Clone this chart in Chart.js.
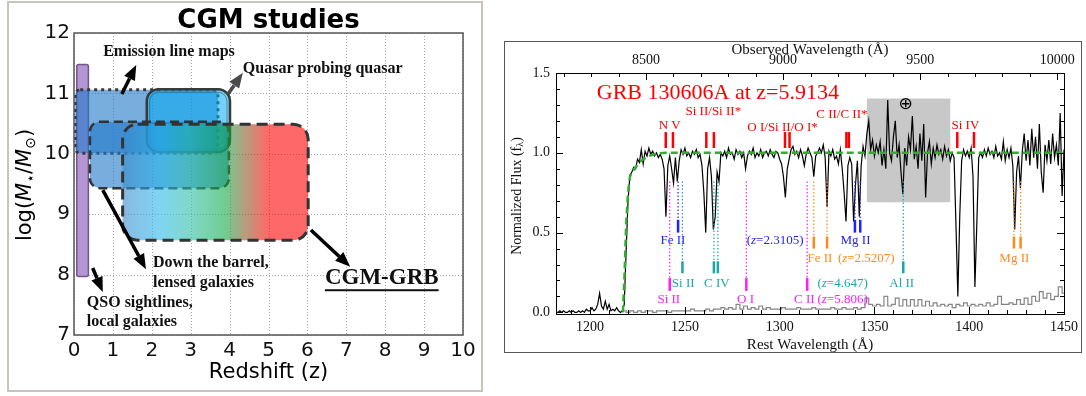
<!DOCTYPE html>
<html>
<head>
<meta charset="utf-8">
<script src="https://cdn.jsdelivr.net/npm/chart.js@4.4.0/dist/chart.umd.min.js"></script>
<style>
  body { margin: 0; background: #fff; width: 1086px; height: 396px; position: relative; overflow: hidden; }
  #frameL { position: absolute; left: 7px; top: 1px; width: 472px; height: 387px; border: 2px solid #c9c4bb; }
  #frameR { position: absolute; left: 504px; top: 41px; width: 576px; height: 310px; border: 1px solid #555; }
  #cL { position: absolute; left: 0; top: 0; }
  #cR { position: absolute; left: 492px; top: 0; }
</style>
</head>
<body>
<div id="frameL"></div>
<div id="frameR"></div>
<canvas id="cL" width="492" height="396"></canvas>
<canvas id="cR" width="594" height="396"></canvas>
<script>
// ---------- panneau gauche : CGM studies ----------
const zTicks = [0, 1, 2, 3, 4, 5, 6, 7, 8, 9, 10];
const massTicks = [7, 8, 9, 10, 11, 12];

// boites (redshift / log masse) : QSO, emission, quasar-quasar, down the barrel, CGM-GRB
const zLow = [0.07, 0.03, 1.87, 0.41, 1.25];
const zHigh = [0.37, 3.70, 4.01, 3.98, 6.02];
const massLow = [7.97, 10.01, 10.03, 9.43, 8.57];
const massHigh = [11.48, 11.06, 11.07, 10.53, 10.49];

// degrade de la boite CGM-GRB (en redshift)
const gradZ = [1.25, 2.2, 3.0, 3.9, 4.35, 5.0];
const gradColors = ['#3989cb', '#2bb7ed', '#2bbea3', '#11aa46', '#7b612b', '#ff0303'];

// fleches (queue -> pointe)
const arrowTailZ = [0.48, 1.23, 3.96, 0.74, 6.09];
const arrowTailM = [8.11, 10.99, 10.99, 9.40, 8.74];
const arrowHeadZ = [0.74, 1.60, 4.34, 1.85, 7.10];
const arrowHeadM = [7.71, 11.47, 11.34, 8.09, 8.13];

// ---------- panneau droit : spectre GRB 130606A ----------
const zGRB = 5.9134;
const restTicks = [1200, 1250, 1300, 1350, 1400, 1450];
const obsTicks = [8500, 9000, 9500, 10000];
const fluxTicks = [0.0, 0.5, 1.0, 1.5];

// flux normalise, un point par Angstrom a partir de 1180
const waveStart = 1180;
const flux = [
  0.00, 0.01, 0.00, 0.00, 0.01, 0.00, 0.01, 0.00, 0.00, 0.01, // 1180
  0.00, 0.01, 0.00, 0.00, 0.01, 0.00, 0.01, 0.00, 0.02, 0.01, // 1190
  0.01, 0.03, 0.01, 0.02, 0.05, 0.12, 0.04, 0.02, 0.07, 0.02, // 1200
  0.05, 0.01, 0.02, 0.01, 0.03, 0.01, 0.00, 0.01, 0.05, 0.38, // 1210
  0.70, 0.86, 0.88, 0.91, 0.90, 0.96, 0.94, 1.02, 0.93, 1.01, // 1220
  0.98, 1.03, 0.99, 1.01, 0.98, 1.00, 0.97, 0.99, 0.96, 0.90, // 1230
  0.60, 0.92, 0.98, 0.90, 0.81, 0.97, 0.82, 0.95, 1.02, 0.99, // 1240
  1.03, 0.98, 1.00, 0.97, 1.01, 0.99, 1.02, 0.97, 0.99, 0.92, // 1250
  0.75, 0.50, 0.90, 0.97, 0.85, 0.52, 0.60, 0.88, 0.82, 1.00, // 1260
  0.98, 1.01, 0.97, 1.03, 0.99, 1.00, 0.96, 1.02, 0.99, 1.01, // 1270
  0.97, 1.00, 0.90, 0.98, 1.01, 0.99, 1.03, 0.97, 1.00, 0.98, // 1280
  1.02, 0.97, 1.00, 1.01, 0.98, 1.02, 0.99, 0.97, 1.01, 1.00, // 1290
  0.96, 0.93, 0.85, 0.72, 0.90, 0.96, 1.02, 1.04, 0.99, 1.01, // 1300
  0.97, 1.02, 0.98, 0.92, 0.99, 1.03, 1.00, 0.97, 0.85, 0.98, // 1310
  1.00, 1.03, 1.00, 1.05, 0.97, 0.66, 1.01, 0.98, 1.02, 0.96, // 1320
  0.98, 0.93, 1.02, 0.90, 0.75, 0.57, 0.92, 0.97, 0.93, 0.57, // 1330
  0.80, 0.95, 0.60, 0.92, 1.04, 0.98, 1.12, 1.20, 1.02, 1.08, // 1340
  0.98, 1.05, 1.00, 1.07, 0.92, 1.02, 0.90, 1.33, 1.00, 0.95, // 1350
  1.10, 1.20, 0.97, 1.05, 0.88, 0.74, 1.03, 0.92, 1.10, 1.02, // 1360
  1.23, 0.96, 1.04, 0.90, 1.12, 0.95, 1.18, 0.72, 1.00, 1.07, // 1370
  0.93, 1.03, 0.97, 1.05, 0.99, 1.02, 0.96, 1.04, 0.98, 1.02, // 1380
  0.95, 1.00, 0.97, 0.55, 0.10, 0.60, 0.95, 1.02, 0.98, 1.01, // 1390
  0.97, 1.03, 0.85, 0.16, 0.55, 0.97, 1.00, 0.97, 1.02, 0.98, // 1400
  1.03, 0.99, 1.01, 0.97, 1.04, 0.98, 1.00, 0.96, 1.07, 0.95, // 1410
  1.02, 0.97, 1.03, 0.92, 0.52, 0.88, 0.98, 0.78, 1.01, 1.12, // 1420
  0.95, 1.08, 0.92, 1.15, 0.97, 1.10, 0.90, 1.18, 0.88, 0.75, // 1430
  1.05, 0.95, 1.08, 0.93, 1.12, 0.97, 1.05, 0.92, 1.25, 0.73, // 1440
  1.02                                                        // 1450
];

// spectre d'erreur, tous les 2 Angstrom a partir de 1218
const errStart = 1218;
const errStep = 2;
const errFlux = [
  0.01, 0.00, 0.01, 0.00, 0.01, 0.00, 0.01, 0.01, 0.00, 0.01,
  0.01, 0.01, 0.00, 0.01, 0.01, 0.01, 0.01, 0.01, 0.02, 0.01,
  0.01, 0.01, 0.02, 0.01, 0.02, 0.02, 0.03, 0.02, 0.03, 0.02,
  0.05, 0.02, 0.04, 0.02, 0.03, 0.02, 0.04, 0.02, 0.03, 0.02,
  0.02, 0.02, 0.03, 0.02, 0.02, 0.02, 0.03, 0.02, 0.02, 0.02,
  0.03, 0.02, 0.02, 0.02, 0.02, 0.03, 0.02, 0.02, 0.03, 0.02,
  0.02, 0.03, 0.02, 0.03, 0.09, 0.05, 0.04, 0.05, 0.04, 0.10,
  0.04, 0.05, 0.09, 0.04, 0.08, 0.04, 0.08, 0.04, 0.08, 0.04,
  0.07, 0.04, 0.06, 0.04, 0.05, 0.04, 0.05, 0.03, 0.05, 0.04,
  0.06, 0.04, 0.05, 0.04, 0.05, 0.04, 0.06, 0.04, 0.05, 0.10,
  0.05, 0.05, 0.06, 0.05, 0.08, 0.05, 0.09, 0.05, 0.10, 0.07,
  0.13, 0.09, 0.12, 0.08, 0.10, 0.16, 0.12
];

// modele (continuum + aile Lyman alpha)
const modelWave = [1217.3, 1218.2, 1219, 1220, 1221, 1222, 1224, 1226, 1228, 1231, 1235, 1240, 1450];
const modelFlux = [0.00, 0.25, 0.55, 0.75, 0.85, 0.88, 0.91, 0.94, 0.96, 0.98, 0.995, 1.00, 1.00];

// bande tellurique (grisee)
const telluricWave = [1346, 1390];
const telluricFlux = [0.69, 1.34];

// raies du GRB (rouge)
const grbLines = [[1239.9, 1243.7], [1261.3, 1265.3], [1302.8, 1305.2], [1335.2, 1336.5], [1393.7, 1402.5]];
const grbLabels = ['N V', 'Si II/Si II*', 'O I/Si II/O I*', 'C II/C II*', 'Si IV'];
const grbLabelWave = [1242, 1265, 1301.5, 1332.8, 1398];
const grbLabelFlux = [1.17, 1.26, 1.16, 1.24, 1.17];

// systemes intervenants : z=2.3105 (bleu), z=2.5207 (orange), z=4.647 (cyan), z=5.806 (magenta)
const absLines = [
  [1246.4, 1339.7, 1342.5],
  [1318.0, 1325.0, 1423.6, 1427.1],
  [1248.7, 1265.3, 1267.4, 1365.2],
  [1242.0, 1282.4, 1314.5]
];
const absTickLow = [0.50, 0.40, 0.245, 0.135];
const absTickHigh = [0.58, 0.475, 0.32, 0.215];
const absLabels = [
  ['Fe II', 'Mg II', '(z=2.3105)'],
  ['Fe II', '(z=2.5207)', 'Mg II'],
  ['Si II', 'C IV', '(z=4.647)', 'Al II'],
  ['Si II', 'O I', 'C II', '(z=5.806)']
];
const absLabelWave = [
  [1243.7, 1340, 1297.6],
  [1321.2, 1345.7, 1423.8],
  [1249.1, 1266.9, 1333.2, 1364.4],
  [1241.5, 1282, 1313, 1333.2]
];
const absLabelFlux = [0.45, 0.34, 0.18, 0.08];
const absDottedTop = 0.82;

// ---------- styles ----------
const boxStyle = [
  { fill: '#b596d4', alpha: 1, edge: '#6f5888', lw: 1.5, dash: [], r: 2 },
  { fill: 'rgb(30,120,200)', alpha: 0.6, edge: '#3a3a3a', lw: 3, dash: [3, 4], r: 5 },
  { fill: 'rgb(0,170,240)', alpha: 0.55, edge: '#3a3a3a', lw: 2.5, dash: [], r: 12 },
  { fill: 'rgb(30,120,200)', alpha: 0.6, edge: '#333', lw: 2.5, dash: [9, 5], r: 10 },
  { gradient: true, alpha: 0.6, edge: '#333', lw: 3, dash: [11, 6], r: 15 }
];
const absColors = ['#2222ff', '#ff8a1c', '#1ea6a6', '#ff1cff'];
const arrowColors = ['#000', '#000', '#4a4a4a', '#000', '#000'];

const studyText = [
  { t: 'Emission line maps', z: 0.75, m: 11.69 },
  { t: 'Quasar probing quasar', z: 4.34, m: 11.40 },
  { t: 'Down the barrel,', z: 2.03, m: 8.19 },
  { t: 'lensed galaxies', z: 2.03, m: 7.86 },
  { t: 'QSO sightlines,', z: 0.33, m: 7.53 },
  { t: 'local galaxies', z: 0.33, m: 7.22 }
];

// ---------- outils de dessin ----------
function roundRectPath(ctx, x, y, w, h, r) {
  ctx.beginPath();
  ctx.moveTo(x + r, y);
  ctx.lineTo(x + w - r, y);
  ctx.arcTo(x + w, y, x + w, y + r, r);
  ctx.lineTo(x + w, y + h - r);
  ctx.arcTo(x + w, y + h, x + w - r, y + h, r);
  ctx.lineTo(x + r, y + h);
  ctx.arcTo(x, y + h, x, y + h - r, r);
  ctx.lineTo(x, y + r);
  ctx.arcTo(x, y, x + r, y, r);
  ctx.closePath();
}

function drawArrow(ctx, x0, y0, x1, y1, color) {
  const ang = Math.atan2(y1 - y0, x1 - x0);
  const hl = 15, hw = 12;
  const bx = x1 - hl * Math.cos(ang), by = y1 - hl * Math.sin(ang);
  ctx.strokeStyle = color;
  ctx.lineWidth = 3.5;
  ctx.beginPath();
  ctx.moveTo(x0, y0);
  ctx.lineTo(bx, by);
  ctx.stroke();
  ctx.fillStyle = color;
  ctx.beginPath();
  ctx.moveTo(x1, y1);
  ctx.lineTo(bx + hw / 2 * Math.sin(ang), by - hw / 2 * Math.cos(ang));
  ctx.lineTo(bx - hw / 2 * Math.sin(ang), by + hw / 2 * Math.cos(ang));
  ctx.closePath();
  ctx.fill();
}

// texte en morceaux (polices differentes), centre sur x
function drawParts(ctx, parts, x, y) {
  let w = 0;
  parts.forEach(p => { ctx.font = p.f; w += ctx.measureText(p.t).width; });
  let cx = x - w / 2;
  ctx.textAlign = 'left';
  parts.forEach(p => {
    ctx.font = p.f;
    ctx.fillText(p.t, cx, y + (p.dy || 0));
    cx += ctx.measureText(p.t).width;
  });
}

function serifLabel(text, size) {
  const f = size + 'px "Liberation Serif"';
  if (text.startsWith('(z=')) {
    return [{ t: '(', f: f }, { t: 'z', f: 'italic ' + f }, { t: text.slice(2), f: f }];
  }
  return [{ t: text, f: f }];
}

// ---------- plugin panneau gauche ----------
const cgmDecor = {
  id: 'cgmDecor',
  beforeDatasetsDraw(chart) {
    const { ctx, chartArea: a, scales: { x, y } } = chart;
    ctx.save();
    // grille pointillee
    ctx.strokeStyle = '#a8a8a8';
    ctx.lineWidth = 1;
    ctx.setLineDash([1, 2]);
    ctx.beginPath();
    zTicks.forEach(z => {
      const px = Math.round(x.getPixelForValue(z)) + 0.5;
      ctx.moveTo(px, a.top); ctx.lineTo(px, a.bottom);
    });
    massTicks.forEach(m => {
      const py = Math.round(y.getPixelForValue(m)) + 0.5;
      ctx.moveTo(a.left, py); ctx.lineTo(a.right, py);
    });
    ctx.stroke();
    ctx.setLineDash([]);
    ctx.beginPath();
    ctx.rect(a.left, a.top, a.right - a.left, a.bottom - a.top);
    ctx.clip();
    for (let i = 0; i < zLow.length; i++) {
      const st = boxStyle[i];
      const L = x.getPixelForValue(zLow[i]), R = x.getPixelForValue(zHigh[i]);
      const T = y.getPixelForValue(massHigh[i]), B = y.getPixelForValue(massLow[i]);
      let fill = st.fill;
      if (st.gradient) {
        fill = ctx.createLinearGradient(L, 0, R, 0);
        gradZ.forEach((z, k) => {
          const off = Math.min(1, Math.max(0, (z - zLow[i]) / (zHigh[i] - zLow[i])));
          fill.addColorStop(off, gradColors[k]);
        });
      }
      roundRectPath(ctx, L, T, R - L, B - T, st.r);
      ctx.globalAlpha = st.alpha;
      ctx.fillStyle = fill;
      ctx.fill();
      ctx.globalAlpha = 1;
      ctx.setLineDash(st.dash);
      ctx.lineWidth = st.lw;
      ctx.strokeStyle = st.edge;
      ctx.stroke();
      ctx.setLineDash([]);
      if (i === 2) {
        roundRectPath(ctx, L + 3, T + 3, R - L - 6, B - T - 6, st.r - 3);
        ctx.lineWidth = 1;
        ctx.strokeStyle = 'rgba(50,50,50,0.45)';
        ctx.stroke();
      }
    }
    ctx.restore();
  },
  afterDatasetsDraw(chart) {
    const { ctx, chartArea: a, scales: { x, y } } = chart;
    ctx.save();
    for (let i = 0; i < arrowTailZ.length; i++) {
      drawArrow(ctx, x.getPixelForValue(arrowTailZ[i]), y.getPixelForValue(arrowTailM[i]),
        x.getPixelForValue(arrowHeadZ[i]), y.getPixelForValue(arrowHeadM[i]), arrowColors[i]);
    }
    ctx.fillStyle = '#111';
    ctx.textBaseline = 'middle';
    ctx.textAlign = 'left';
    ctx.font = 'bold 16px "Liberation Serif"';
    studyText.forEach(s => ctx.fillText(s.t, x.getPixelForValue(s.z), y.getPixelForValue(s.m)));
    // CGM-GRB souligne
    ctx.font = 'bold 23px "Liberation Serif"';
    const gx = x.getPixelForValue(6.45), gy = y.getPixelForValue(7.94);
    ctx.fillText('CGM-GRB', gx, gy);
    const gw = ctx.measureText('CGM-GRB').width;
    ctx.fillRect(gx, gy + 11, gw, 2);
    // cadre
    ctx.strokeStyle = '#555';
    ctx.lineWidth = 1.5;
    ctx.strokeRect(a.left, a.top, a.right - a.left, a.bottom - a.top);
    // titres
    ctx.fillStyle = '#000';
    ctx.textAlign = 'center';
    ctx.font = 'bold 26px "DejaVu Sans"';
    ctx.fillText('CGM studies', (a.left + a.right) / 2, 21);
    ctx.font = '21px "DejaVu Sans"';
    ctx.fillText('Redshift (z)', (a.left + a.right) / 2, 373);
    ctx.translate(26, 185);
    ctx.rotate(-Math.PI / 2);
    drawParts(ctx, [
      { t: 'log(', f: '21px "DejaVu Sans"' },
      { t: 'M', f: 'italic 21px "DejaVu Sans"' },
      { t: '\u22C6', f: '14px "DejaVu Sans"', dy: 5 },
      { t: '/', f: '21px "DejaVu Sans"' },
      { t: 'M', f: 'italic 21px "DejaVu Sans"' },
      { t: '\u2299', f: '14px "DejaVu Sans"', dy: 5 },
      { t: ')', f: '21px "DejaVu Sans"' }
    ], 0, 0);
    ctx.restore();
  }
};

new Chart(document.getElementById('cL'), {
  type: 'scatter',
  data: { datasets: [] },
  options: {
    responsive: false,
    animation: false,
    devicePixelRatio: 1,
    layout: { padding: { top: 33, right: 29, left: 0, bottom: 0 } },
    plugins: { legend: { display: false }, tooltip: { enabled: false } },
    scales: {
      x: {
        type: 'linear', min: 0, max: 10,
        afterFit: s => { s.height = 61; },
        afterBuildTicks: s => { s.ticks = zTicks.map(v => ({ value: v })); },
        grid: { display: false, drawTicks: false },
        border: { display: false },
        ticks: { padding: 4, maxRotation: 0, autoSkip: false, color: '#111', font: { family: 'DejaVu Sans', size: 20 } }
      },
      y: {
        type: 'linear', min: 7, max: 12,
        afterFit: s => { s.width = 74; },
        afterBuildTicks: s => { s.ticks = massTicks.map(v => ({ value: v })); },
        grid: { display: false, drawTicks: false },
        border: { display: false },
        ticks: { padding: 4, color: '#111', font: { family: 'DejaVu Sans', size: 20 } }
      }
    }
  },
  plugins: [cgmDecor]
});

// ---------- plugin panneau droit ----------
const spectrumDecor = {
  id: 'spectrumDecor',
  beforeDatasetsDraw(chart) {
    const { ctx, scales: { x, y } } = chart;
    ctx.save();
    ctx.fillStyle = '#c8c8c8';
    const x0 = x.getPixelForValue(telluricWave[0]), x1 = x.getPixelForValue(telluricWave[1]);
    const y0 = y.getPixelForValue(telluricFlux[1]), y1 = y.getPixelForValue(telluricFlux[0]);
    ctx.fillRect(x0, y0, x1 - x0, y1 - y0);
    ctx.restore();
  },
  afterDatasetsDraw(chart) {
    const { ctx, chartArea: a, scales: { x, y, x2 } } = chart;
    ctx.save();
    // raies du GRB
    ctx.strokeStyle = '#ff0000';
    ctx.lineWidth = 2.5;
    grbLines.forEach(pair => pair.forEach(w => {
      const px = x.getPixelForValue(w);
      ctx.beginPath();
      ctx.moveTo(px, y.getPixelForValue(1.03));
      ctx.lineTo(px, y.getPixelForValue(1.13));
      ctx.stroke();
    }));
    ctx.fillStyle = '#ff0000';
    ctx.textBaseline = 'middle';
    grbLabels.forEach((t, i) => drawParts(ctx, serifLabel(t, 13), x.getPixelForValue(grbLabelWave[i]), y.getPixelForValue(grbLabelFlux[i])));
    ctx.font = '22px "Liberation Serif"';
    ctx.textAlign = 'left';
    ctx.fillText('GRB 130606A at z=5.9134', x.getPixelForValue(1203.5), y.getPixelForValue(1.375));
    // symbole terrestre
    ctx.fillStyle = '#000';
    ctx.textAlign = 'center';
    ctx.font = '17px "DejaVu Sans"';
    ctx.fillText('\u2295', x.getPixelForValue(1366.4), y.getPixelForValue(1.30));
    // systemes intervenants
    absLines.forEach((lines, s) => {
      ctx.strokeStyle = absColors[s];
      lines.forEach(w => {
        const px = x.getPixelForValue(w);
        ctx.lineWidth = 1.2;
        ctx.setLineDash([1.5, 2]);
        ctx.beginPath();
        ctx.moveTo(px, y.getPixelForValue(absDottedTop));
        ctx.lineTo(px, y.getPixelForValue(absTickHigh[s]));
        ctx.stroke();
        ctx.setLineDash([]);
        ctx.lineWidth = 2.5;
        ctx.beginPath();
        ctx.moveTo(px, y.getPixelForValue(absTickHigh[s]));
        ctx.lineTo(px, y.getPixelForValue(absTickLow[s]));
        ctx.stroke();
      });
      ctx.fillStyle = absColors[s];
      absLabels[s].forEach((t, k) => drawParts(ctx, serifLabel(t, 13), x.getPixelForValue(absLabelWave[s][k]), y.getPixelForValue(absLabelFlux[s])));
    });
    // cadre et graduations internes
    ctx.strokeStyle = '#000';
    ctx.lineWidth = 1;
    ctx.strokeRect(a.left + 0.5, a.top + 0.5, a.right - a.left, a.bottom - a.top);
    ctx.beginPath();
    for (let v = 1190; v <= 1450; v += 10) {
      const px = Math.round(x.getPixelForValue(v)) + 0.5;
      const len = restTicks.includes(v) ? 7 : 4;
      ctx.moveTo(px, a.bottom); ctx.lineTo(px, a.bottom - len);
    }
    for (let v = 8200; v <= 10000; v += 100) {
      const px = Math.round(x2.getPixelForValue(v)) + 0.5;
      const len = obsTicks.includes(v) ? 7 : 4;
      ctx.moveTo(px, a.top); ctx.lineTo(px, a.top + len);
    }
    for (let k = 0; k <= 15; k++) {
      const v = k / 10;
      const py = Math.round(y.getPixelForValue(v)) + 0.5;
      const len = k % 5 === 0 ? 7 : 4;
      ctx.moveTo(a.left, py); ctx.lineTo(a.left + len, py);
      ctx.moveTo(a.right, py); ctx.lineTo(a.right - len, py);
    }
    ctx.stroke();
    // titres des axes
    ctx.fillStyle = '#111';
    ctx.textAlign = 'center';
    ctx.font = '15px "Liberation Serif"';
    ctx.fillText('Observed Wavelength (\u00C5)', (a.left + a.right) / 2, 50);
    ctx.fillText('Rest Wavelength (\u00C5)', (a.left + a.right) / 2, 345);
    ctx.translate(25, 196);
    ctx.rotate(-Math.PI / 2);
    drawParts(ctx, [
      { t: 'Normalized Flux (f', f: '14px "Liberation Serif"' },
      { t: '\u03BB', f: '10px "Liberation Serif"', dy: 3 },
      { t: ')', f: '14px "Liberation Serif"' }
    ], 0, 0);
    ctx.restore();
  }
};

const serifTicks = { family: 'Liberation Serif', size: 14 };

new Chart(document.getElementById('cR'), {
  type: 'line',
  data: {
    datasets: [
      {
        label: 'model',
        data: modelWave.map((w, i) => ({ x: w, y: modelFlux[i] })),
        borderColor: '#2fae2f', borderWidth: 2.5, borderDash: [7, 4],
        pointRadius: 0, order: 0
      },
      {
        label: 'flux',
        data: flux.map((f, i) => ({ x: waveStart + i, y: f })),
        borderColor: '#000', borderWidth: 1.2,
        pointRadius: 0, order: 1
      },
      {
        label: 'error',
        data: errFlux.map((f, i) => ({ x: errStart + errStep * i, y: f })),
        borderColor: '#858585', borderWidth: 1.2, stepped: 'middle',
        pointRadius: 0, order: 2
      }
    ]
  },
  options: {
    responsive: false,
    animation: false,
    devicePixelRatio: 1,
    layout: { padding: { top: 0, right: 22, left: 0, bottom: 0 } },
    plugins: { legend: { display: false }, tooltip: { enabled: false } },
    scales: {
      x: {
        type: 'linear', position: 'bottom', min: 1182, max: 1450,
        afterFit: s => { s.height = 82; },
        afterBuildTicks: s => { s.ticks = restTicks.map(v => ({ value: v })); },
        grid: { display: false, drawTicks: false },
        border: { display: false },
        ticks: { padding: 5, maxRotation: 0, autoSkip: false, color: '#111', font: serifTicks, callback: v => String(v) }
      },
      x2: {
        type: 'linear', position: 'top', min: 1182 * (1 + zGRB), max: 1450 * (1 + zGRB),
        afterFit: s => { s.height = 73; },
        afterBuildTicks: s => { s.ticks = obsTicks.map(v => ({ value: v })); },
        grid: { display: false, drawTicks: false },
        border: { display: false },
        ticks: { padding: 4, maxRotation: 0, autoSkip: false, color: '#111', font: serifTicks, callback: v => String(v) }
      },
      y: {
        type: 'linear', min: -0.01, max: 1.5,
        afterFit: s => { s.width = 64; },
        afterBuildTicks: s => { s.ticks = fluxTicks.map(v => ({ value: v })); },
        grid: { display: false, drawTicks: false },
        border: { display: false },
        ticks: { padding: 6, color: '#111', font: serifTicks, callback: v => v.toFixed(1) }
      }
    }
  },
  plugins: [spectrumDecor]
});
</script>
</body>
</html>
